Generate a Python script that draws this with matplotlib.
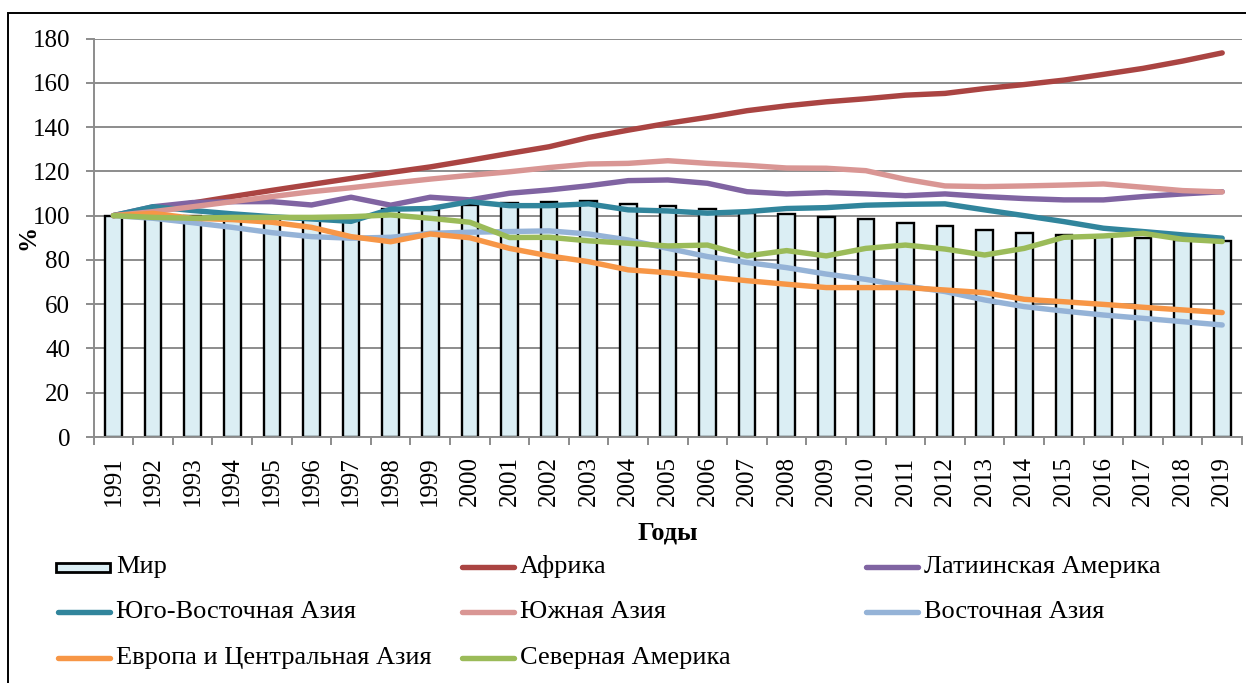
import numpy as np
import matplotlib
matplotlib.use("Agg")
import matplotlib.pyplot as plt
from matplotlib.lines import Line2D
from matplotlib.patches import Rectangle

plt.rcParams['font.family'] = ['Liberation Serif', 'DejaVu Serif']

years = [str(y) for y in range(1991, 2020)]

world = [100, 101, 100, 99.5, 99, 98.5, 98, 103, 102.5, 104.8, 105.6, 106, 106.5, 105.3,
         104.4, 102.9, 101, 100.8, 99.5, 98.6, 96.8, 95.3, 93.5, 92, 91.3, 90.6, 89.8, 89, 88.7]
africa = [100, 102.9, 105.7, 108.6, 111.4, 114.1, 116.8, 119.5, 122, 125, 128.1, 131.1, 135.3,
          138.6, 141.7, 144.4, 147.4, 149.6, 151.4, 152.8, 154.4, 155.2, 157.4, 159.2, 161.2,
          163.8, 166.5, 169.8, 173.5]
latin_america = [100, 104, 105.9, 106.3, 106.3, 104.8, 108.3, 104.7, 108.3, 107.1, 110.1, 111.6,
                 113.5, 115.8, 116.1, 114.6, 110.8, 109.8, 110.4, 109.8, 109, 109.8, 108.6, 107.7,
                 107.1, 107.1, 108.6, 109.8, 110.8]
se_asia = [100, 104, 102.3, 100.8, 99.5, 98.5, 97.4, 102.9, 103.2, 106.3, 104.5, 104.5, 105.3,
           102.6, 102.1, 101.1, 101.8, 103.2, 103.6, 104.7, 105.1, 105.3, 102.6, 100, 97.3, 94.3,
           92.8, 91.3, 89.8]
south_asia = [100, 101.8, 104, 106.3, 108.6, 110.8, 112.6, 114.6, 116.5, 118.2, 119.8, 121.7, 123.3,
              123.6, 124.8, 123.6, 122.7, 121.5, 121.4, 120.3, 116.4, 113.4, 113.1, 113.4, 113.8,
              114.3, 112.8, 111.3, 110.7]
east_asia = [100, 98.8, 96.8, 94.7, 92.3, 90.5, 89.8, 90.2, 92, 92.5, 92.8, 93.1, 91.7, 89, 85.2,
             81.5, 78.8, 76.5, 73.6, 71.2, 68.2, 65.7, 61.9, 58.9, 56.9, 55.1, 53.6, 52.1, 50.6]
europe_ca = [100, 101, 98.8, 98.2, 97, 94.7, 90.5, 88.2, 91.7, 90, 85.2, 81.8, 79.2, 75.5, 74.2,
             72.4, 70.6, 69, 67.5, 67.5, 67.5, 66.4, 65.2, 62.2, 61.1, 59.9, 58.6, 57.4, 56.2]
north_america = [100, 99.2, 98.8, 99.2, 99.2, 99.2, 99.5, 100.3, 98.8, 97, 90.1, 90.2, 88.6, 87.5,
                 86.3, 86.7, 81.8, 84.2, 81.8, 85.2, 86.7, 84.9, 82.2, 85.2, 90.2, 90.8, 92, 89.3, 88.3]

bar_color = '#DBEEF4'
series = [
    ('Африка', africa, '#AA4442'),
    ('Латиинская Америка', latin_america, '#8064A2'),
    ('Юго-Восточная Азия', se_asia, '#31859C'),
    ('Южная Азия', south_asia, '#D99694'),
    ('Восточная Азия', east_asia, '#95B3D7'),
    ('Европа и Центральная Азия', europe_ca, '#F79646'),
    ('Северная Америка', north_america, '#9BBB59'),
]
colors = {name: c for name, _, c in series}

W, H = 1246, 683
fig = plt.figure(figsize=(W / 100, H / 100), dpi=100)
ax = fig.add_axes([93.7 / W, 1 - 437 / H, (1242 - 93.7) / W, (437 - 38.5) / H])

x = np.arange(len(years))
ax.bar(x, world, width=0.42, color=bar_color, edgecolor='black', linewidth=1.7, zorder=2)
for name, vals, c in series:
    ax.plot(x, vals, color=c, linewidth=3.9, solid_capstyle='round',
            solid_joinstyle='round', zorder=3)

ax.set_xlim(-0.5, len(years) - 0.5)
ax.set_ylim(0, 180)
ax.set_yticks(range(0, 181, 20))
ax.yaxis.grid(True, color='#8C8C8C', linewidth=1.4)
ax.set_axisbelow(True)
for s in ['top', 'right']:
    ax.spines[s].set_visible(False)
for s in ['left', 'bottom']:
    ax.spines[s].set_color('#8C8C8C')
    ax.spines[s].set_linewidth(1.4)

ax.set_xticks(x)
ax.set_xticklabels(years, rotation=90, fontsize=18)
ax.set_xticks(np.arange(-0.5, len(years), 1), minor=True)
ax.tick_params(axis='x', which='major', length=0, pad=14)
ax.tick_params(axis='x', which='minor', length=6, width=1.4, color='#8C8C8C', direction='out')
ax.tick_params(axis='y', length=6, width=1.4, color='#8C8C8C', pad=11, labelsize=18)

fig.text(28 / W, 1 - 237 / H, '%', rotation=90, fontsize=18, fontweight='bold',
         ha='center', va='center')
fig.text(668 / W, 1 - 533 / H, 'Годы', fontsize=19, fontweight='bold',
         ha='center', va='center')

# outer frame (cropped at right and bottom)
fig.patches.append(Rectangle((8 / W, -0.2), 1.5, 1.2 - 12.5 / H, transform=fig.transFigure,
                             fill=False, edgecolor='black', linewidth=1.4))

# legend (manual, 3 columns)
col_x = [56, 460, 864]
row_y = [567, 612, 658]
order = [['Мир', 'Африка', 'Латиинская Америка'],
         ['Юго-Восточная Азия', 'Южная Азия', 'Восточная Азия'],
         ['Европа и Центральная Азия', 'Северная Америка', None]]
for r, row in enumerate(order):
    for c, name in enumerate(row):
        if name is None:
            continue
        x0 = col_x[c]
        y0 = row_y[r]
        if name == 'Мир':
            fig.patches.append(Rectangle((x0 / W, 1 - (y0 + 4.5) / H), 54 / W, 9 / H,
                                         transform=fig.transFigure, facecolor=bar_color,
                                         edgecolor='black', linewidth=2))
        else:
            fig.lines.append(Line2D([(x0 + 2) / W, (x0 + 54) / W], [1 - y0 / H, 1 - y0 / H],
                                    transform=fig.transFigure, color=colors[name],
                                    linewidth=3.9, solid_capstyle='round'))
        fig.text((x0 + 60) / W, 1 - y0 / H, name, fontsize=19, ha='left', va='center')

fig.savefig('out.png', dpi=100)
